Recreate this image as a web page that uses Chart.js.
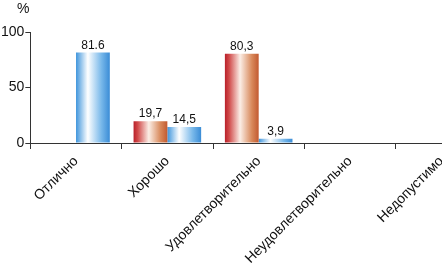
<!DOCTYPE html>
<html>
<head>
<meta charset="utf-8">
<script src="https://cdn.jsdelivr.net/npm/chart.js@4/dist/chart.umd.min.js"></script>
<style>
  html, body { margin: 0; padding: 0; background: #fff; overflow: hidden; }
  #wrap { width: 487px; height: 265px; position: relative; }
</style>
</head>
<body>
<div id="wrap"><canvas id="chart"></canvas></div>
<script>
// data
const categories = ['Отлично', 'Хорошо', 'Удовлетворительно', 'Неудовлетворительно', 'Недопустимо'];
const redValues = [null, 19.7, 80.3, null, null];
const blueValues = [81.6, 14.5, 3.9, null, null];
const redLabels = ['', '19,7', '80,3', '', ''];
const blueLabels = ['81.6', '14,5', '3,9', '', ''];
const yTicks = [0, 50, 100];

const FONT = 'Arial, "Liberation Sans", sans-serif';

const RED_STOPS = [[0, '#b8202a'], [0.12, '#d04848'], [0.45, '#fbeee6'], [0.8, '#d8885a'], [1, '#c25a30']];
const BLUE_STOPS = [[0, '#3f95dc'], [0.35, '#ffffff'], [0.75, '#78b8ea'], [1, '#3a8cd6']];

/* gradient fill per bar, made from the bar's own box */
const gradientFill = {
  id: 'gradientFill',
  beforeDatasetDraw(chart, args) {
    const ctx = chart.ctx;
    const meta = args.meta;
    const stops = meta.index === 0 ? RED_STOPS : BLUE_STOPS;
    meta.data.forEach(el => {
      const x0 = el.x - el.width / 2;
      const g = ctx.createLinearGradient(x0, 0, x0 + el.width, 0);
      stops.forEach(s => g.addColorStop(s[0], s[1]));
      // copy so each bar keeps its own gradient
      el.options = Object.assign({}, el.options, { backgroundColor: g });
    });
  }
};

/* value labels above the bars and the % sign */
const valueLabels = {
  id: 'valueLabels',
  afterDatasetsDraw(chart) {
    const ctx = chart.ctx;
    ctx.save();
    ctx.fillStyle = '#111';
    ctx.font = '12px ' + FONT;
    ctx.textAlign = 'center';
    ctx.textBaseline = 'bottom';
    [redLabels, blueLabels].forEach((labels, di) => {
      chart.getDatasetMeta(di).data.forEach((el, i) => {
        if (labels[i]) ctx.fillText(labels[i], el.x, el.y - 1);
      });
    });
    ctx.font = '14px ' + FONT;
    ctx.textAlign = 'left';
    ctx.textBaseline = 'top';
    ctx.fillText('%', 17, 2);
    ctx.restore();
  }
};

new Chart(document.getElementById('chart').getContext('2d'), {
  type: 'bar',
  data: {
    labels: categories,
    datasets: [
      { data: redValues, categoryPercentage: 0.74, barPercentage: 1 },
      { data: blueValues, categoryPercentage: 0.74, barPercentage: 1 }
    ]
  },
  options: {
    responsive: true,
    maintainAspectRatio: false,
    animation: false,
    layout: { padding: { top: 32, left: 0, right: 0, bottom: 0 } },
    plugins: { legend: { display: false }, tooltip: { enabled: false } },
    scales: {
      x: {
        afterFit(scale) { scale.height = 122; },
        grid: { display: true, drawOnChartArea: false, offset: true, tickLength: 6, color: '#333' },
        border: { color: '#333', width: 1 },
        ticks: {
          color: '#111',
          font: { family: FONT, size: 14 },
          minRotation: 45,
          maxRotation: 45,
          autoSkip: false,
          padding: 4
        }
      },
      y: {
        min: 0,
        max: 100,
        afterBuildTicks(axis) { axis.ticks = yTicks.map(v => ({ value: v })); },
        grid: { display: true, drawOnChartArea: false, tickLength: 5, color: '#333' },
        border: { color: '#333', width: 1 },
        ticks: {
          color: '#111',
          font: { family: FONT, size: 14 },
          padding: 1
        }
      }
    }
  },
  plugins: [gradientFill, valueLabels]
});
</script>
</body>
</html>
